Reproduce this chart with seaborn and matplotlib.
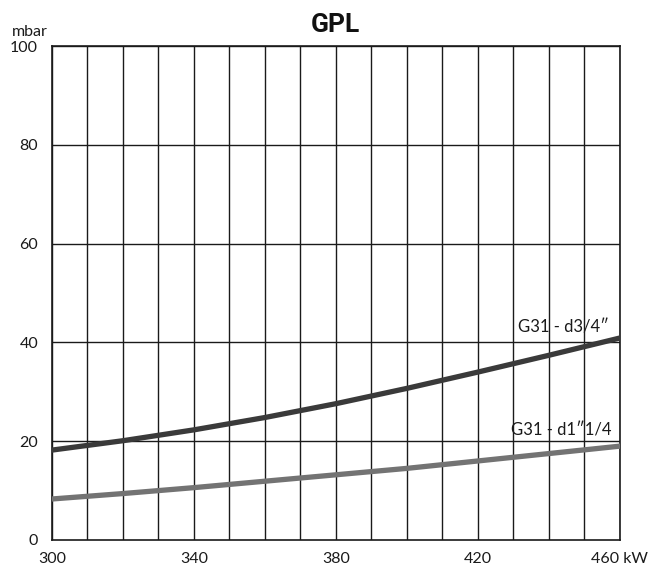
import matplotlib
matplotlib.use("Agg")
import matplotlib.pyplot as plt
import seaborn as sns
import pandas as pd

# potenza (kW) e perdita di carico (mbar)
kw = [300, 320, 340, 360, 380, 400, 420, 440, 460]
d34 = [18.2, 20.1, 22.3, 24.8, 27.6, 30.7, 34.0, 37.4, 40.9]
d114 = [8.3, 9.4, 10.6, 11.9, 13.2, 14.5, 16.0, 17.5, 19.0]
serie = ["G31 - d3/4\u2033", "G31 - d1\u20331/4"]
xticks = [300, 340, 380, 420, 460]
xticklabels = ["300", "340", "380", "420", "460 kW"]
yticks = [0, 20, 40, 60, 80, 100]

df = pd.DataFrame({"kW": kw * 2,
                   "mbar": d34 + d114,
                   "serie": [serie[0]] * len(kw) + [serie[1]] * len(kw)})

sns.set_style("white")
plt.rcParams["font.family"] = ["Lato", "DejaVu Sans"]

fig = plt.figure(figsize=(6.62, 5.69), dpi=100)
ax = fig.add_axes([0.0785, 0.051, 0.858, 0.868])

# griglia
for x in range(300, 461, 10):
    ax.axvline(x, color="#1a1a1a", lw=1.0, zorder=1)
for y in yticks[1:]:
    ax.axhline(y, color="#1a1a1a", lw=1.0, zorder=1)

sns.lineplot(data=df, x="kW", y="mbar", hue="serie",
             palette=["#3a3a3a", "#737373"], lw=3.8, legend=False,
             ax=ax, zorder=3)

ax.set_xlim(300, 460)
ax.set_ylim(0, 100)
ax.set_xticks(xticks)
ax.set_xticklabels(xticklabels)
ax.set_yticks(yticks)
ax.tick_params(length=0, labelsize=11.5, colors="#1a1a1a")
ax.tick_params(axis="x", pad=9)
ax.tick_params(axis="y", pad=10)
ax.set_xlabel("")
ax.set_ylabel("")
for s in ax.spines.values():
    s.set_color("#1a1a1a")
    s.set_linewidth(1.2)

ax.text(457, 41.4, serie[0], ha="right", va="bottom", fontsize=12, color="#1a1a1a", zorder=4)
ax.text(457.7, 20.6, serie[1], ha="right", va="bottom", fontsize=12, color="#1a1a1a", zorder=4)

fig.text(0.018, 0.937, "mbar", fontsize=11.5, color="#1a1a1a", va="baseline")
fig.text(0.507, 0.956, "GPL", fontsize=19, fontweight="bold", family="Roboto",
         ha="center", va="center", color="#111111")

fig.savefig("out.png", dpi=100)
